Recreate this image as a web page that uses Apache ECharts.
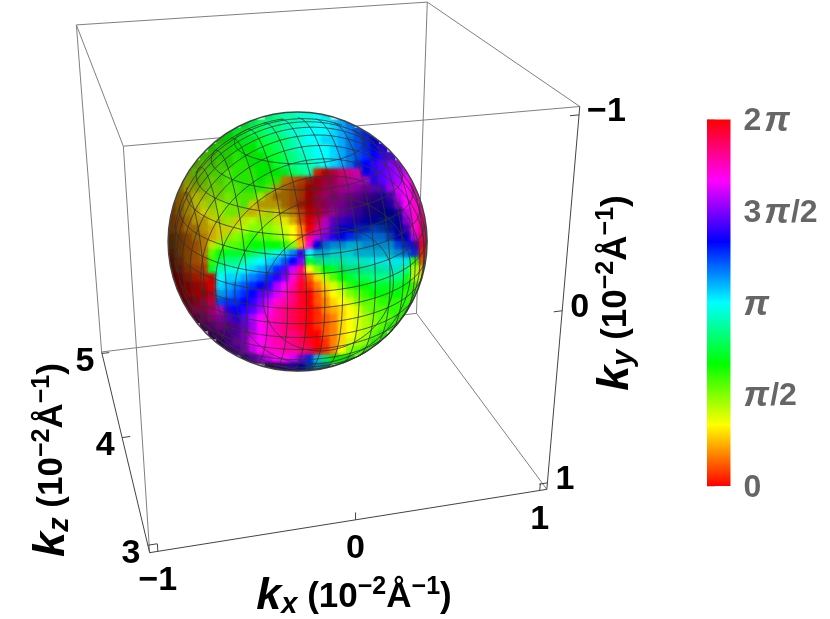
<!DOCTYPE html>
<html>
<head>
<meta charset="utf-8">
<style>html,body{margin:0;background:#fff}#chart{width:830px;height:619px}</style>
<script src="https://cdn.jsdelivr.net/npm/echarts@6/dist/echarts.min.js"></script>
</head>
<body>
<div id="chart"></div>
<script>
// phase on the visible sphere, units of 2pi/36, rows top to bottom (centred)
const phaseRows = [
[15,15,16,16,17,17,18,18],
[13,14,14,15,15,16,16,17,17,18,18,19,20,21],
[12,13,13,14,14,15,15,16,17,17,18,18,18,19,20,21,22,23],
[11,12,12,13,13,13,14,14,15,16,17,18,18,19,19,20,21,22,23,24],
[11,11,11,12,12,12,13,13,14,15,16,17,17,18,18,19,20,21,22,23,24,25],
[10,10,11,11,11,12,12,12,13,13,14,15,16,17,18,18,19,20,21,22,23,24,25,26],
[9,9,10,10,11,11,11,12,12,12,13,14,15,16,16,17,18,19,20,21,23,24,25,26,27,28],
[8,9,9,10,10,10,11,11,11,12,12,12,13,14,15,16,1,0,34,33,32,31,24,25,26,27,28,29],
[6,7,8,9,9,10,10,11,11,11,12,11,11,4,3,2,1,35,34,33,32,31,30,29,25,26,27,28,30,31],
[5,6,7,8,9,9,10,10,11,11,11,10,5,4,3,2,0,35,33,32,31,30,29,28,27,26,28,29,30,31],
[4,5,6,7,8,9,9,10,10,10,8,5,4,4,3,2,0,34,32,31,30,29,28,27,26,25,26,29,30,31],
[3,4,5,6,7,8,8,9,9,10,6,5,5,5,4,3,1,0,34,32,30,29,28,27,26,25,25,25,28,30,31,32],
[3,4,5,5,6,7,8,9,9,7,5,6,7,6,5,4,2,0,35,32,30,28,27,26,25,25,24,24,25,29,31,32],
[3,3,4,5,5,6,7,8,6,7,8,8,8,7,6,5,2,0,34,30,27,26,25,25,24,24,23,23,24,28,31,33],
[3,3,4,4,5,5,6,6,7,8,9,9,9,8,7,6,3,0,33,29,26,24,24,23,23,22,22,23,24,26,31,33],
[3,3,3,4,4,5,6,8,9,10,11,10,10,9,8,6,3,33,29,27,25,24,23,22,21,21,21,22,24,24,29,34],
[3,3,3,3,4,7,9,10,10,11,12,12,12,12,11,9,4,31,24,21,20,20,19,19,20,20,20,20,22,23,25,35],
[2,3,3,3,4,10,12,13,13,13,14,15,16,17,19,21,25,18,19,19,18,18,18,19,19,19,19,19,20,21,23,1],
[1,2,3,3,3,11,14,15,15,16,17,18,19,20,22,24,27,13,15,16,16,16,17,17,17,18,18,18,18,18,11,2],
[1,1,2,2,2,13,16,17,17,18,19,20,21,23,26,29,33,6,9,12,13,14,15,15,16,16,16,17,17,15,8,5],
[0,0,1,1,1,0,18,19,19,20,21,22,23,25,27,31,34,2,5,8,10,12,13,14,14,15,15,15,15,13,8,7],
[0,0,0,0,0,19,20,21,22,23,24,25,28,30,32,35,1,3,5,7,9,11,12,12,13,13,13,13,12,10],
[36,36,36,36,35,20,21,22,23,24,26,27,29,31,33,35,0,2,4,6,7,9,10,11,12,12,12,12,11,11],
[35,35,35,34,34,22,23,23,24,25,27,29,31,32,33,35,0,2,3,5,6,7,9,10,10,11,11,11,11,11],
[34,33,33,32,30,25,24,25,26,28,30,32,33,34,35,0,1,3,4,5,6,7,9,10,10,11,11,11],
[32,31,31,29,27,25,26,28,30,31,32,33,34,35,0,1,2,3,5,6,7,8,9,10,10,11],
[29,29,29,28,27,27,28,30,31,32,33,34,35,0,1,2,3,5,6,7,8,9,10,11],
[28,28,27,27,28,29,30,31,32,33,33,34,36,0,2,3,5,6,7,8,10,11],
[27,27,28,28,30,30,31,32,32,33,34,35,0,1,3,5,7,8,9,11],
[27,27,28,29,30,31,31,32,32,33,34,0,1,3,6,9,10,11],
[26,27,28,29,30,30,29,27,23,19,15,12,12,12],
[26,26,26,25,24,22,19,17]
];
// brightness of the same cells, tenths minus one
const shadeRows = [
[8,9,9,9,9,9,9,8],
[7,8,9,9,9,9,9,9,9,9,9,9,9,8],
[7,8,8,9,9,9,9,9,9,9,9,9,9,9,9,9,8,7],
[6,7,8,8,8,9,9,9,9,9,9,9,9,9,9,9,8,8,8,7],
[6,7,7,8,8,8,9,9,9,9,9,9,9,9,9,9,9,8,8,8,8,8],
[6,6,7,7,8,8,8,8,9,9,9,9,9,9,9,9,9,9,8,8,9,9,9,8],
[5,6,6,7,7,8,8,8,8,8,9,9,9,9,9,9,9,9,9,8,8,9,9,9,9,8],
[5,6,6,7,7,8,8,8,8,8,8,8,8,9,9,9,7,6,6,7,7,7,8,9,9,9,9,9],
[4,5,5,6,7,7,8,8,8,8,8,8,8,6,6,6,5,5,5,5,6,6,6,7,8,9,9,9,9,8],
[4,5,5,6,7,7,8,8,8,8,8,8,6,5,5,5,5,5,5,5,5,5,5,5,6,7,8,9,9,8],
[4,5,6,6,7,7,8,8,8,8,8,6,5,5,5,5,5,5,5,4,4,4,4,4,4,5,6,8,9,9],
[3,4,5,6,7,7,8,8,8,8,7,6,6,6,5,5,5,5,5,4,4,4,4,4,4,4,4,5,7,9,9,8],
[3,4,5,6,7,7,8,8,8,7,7,7,7,7,6,6,6,6,6,5,5,5,5,5,4,4,4,4,5,8,9,8],
[3,4,5,6,6,7,7,8,7,8,9,8,8,8,8,7,7,7,7,6,6,6,6,5,5,5,4,4,5,7,9,8],
[3,4,5,5,6,7,7,7,8,9,9,9,9,9,9,9,9,8,8,7,7,7,7,6,6,6,5,5,5,6,9,8],
[2,3,4,5,6,7,7,8,9,9,9,9,9,9,9,9,9,9,8,8,8,8,8,7,7,7,7,6,6,6,8,8],
[2,3,4,5,6,8,9,9,9,9,9,9,9,9,9,9,9,9,7,7,7,7,7,7,7,7,7,7,7,7,7,8],
[2,3,4,5,6,9,9,9,9,9,9,9,9,9,9,9,9,9,7,7,7,7,7,7,7,7,7,7,7,7,8,8],
[2,3,4,5,6,9,9,9,9,9,9,9,9,9,9,9,9,9,8,8,8,8,8,8,8,8,8,8,8,8,9,8],
[2,3,4,5,6,9,9,9,9,9,9,9,9,9,9,9,9,9,9,9,9,8,8,8,8,8,8,8,8,9,9,8],
[2,3,4,5,6,7,9,9,9,9,9,9,9,9,9,9,9,9,9,9,9,9,9,9,9,9,9,9,9,9,9,8],
[3,4,5,6,7,9,9,9,9,9,9,9,9,9,9,9,9,9,9,9,9,9,9,9,9,9,9,9,9,8],
[3,4,5,5,6,8,9,9,9,9,9,9,9,9,9,9,9,9,9,9,9,9,9,9,9,9,9,9,9,8],
[2,3,4,5,6,8,9,9,9,9,9,9,9,9,9,9,9,9,9,9,9,9,9,9,9,9,9,9,9,8],
[3,4,4,5,6,8,9,9,9,9,9,9,9,9,9,9,9,9,9,9,9,9,9,9,9,9,9,8],
[2,3,4,5,6,7,9,9,9,9,9,9,9,9,9,9,9,9,9,9,9,9,9,9,9,8],
[2,3,4,4,5,7,8,9,9,9,9,9,9,9,9,9,9,9,9,9,9,9,9,8],
[2,3,4,5,6,8,9,9,9,9,9,9,9,9,9,9,9,9,9,9,9,8],
[2,4,5,6,8,9,9,9,9,9,9,9,9,9,9,9,9,9,9,8],
[3,4,6,8,9,9,9,9,9,9,9,9,9,9,9,9,9,8],
[3,5,7,8,9,9,9,8,8,8,8,8,8,7],
[2,3,4,5,5,5,5,4]
];
const kxTicks = [-1, 0, 1];
const kyTicks = [-1, 0, 1];
const kzTicks = [3, 4, 5];
const kxLabels = ['−1', '0', '1'];
const kyLabels = ['−1', '0', '1'];
const kzLabels = ['3', '4', '5'];
const meshLevels = [-13, -11, -9, -7, -5, -3, -1, 1, 3, 5, 7, 9, 11, 13].map(v => v / 15);
const colorbarLabels = ['{d|0}', '{q|π}{d|/2}', '{q|π}', '{d|3}{p|π}{d|/2}', '{d|2}{p|π}'];
const boxX = [-1.04, 1.04];
const boxY = [-1.04, 1.04];
const boxZ = [2.94, 5.02];
const sphereCenter = [-0.012, -0.018, 4];
const sphereRadius = 0.68;

// box corners as they sit on the page, used only to fit the camera
const viewFit = [
  [boxX[0], boxY[1], boxZ[0], 149, 552.7], [boxX[1], boxY[1], boxZ[0], 546.7, 489.3],
  [boxX[1], boxY[0], boxZ[0], 580, 106.7], [boxX[0], boxY[0], boxZ[0], 124, 146],
  [boxX[0], boxY[1], boxZ[1], 102, 352], [boxX[1], boxY[1], boxZ[1], 416.7, 313.3],
  [boxX[1], boxY[0], boxZ[1], 427, 2], [boxX[0], boxY[0], boxZ[1], 76, 25]
];

function solve(A, b) {
  const n = b.length, m = A.map((r, i) => r.concat(b[i]));
  for (let c = 0; c < n; c++) {
    let p = c;
    for (let r = c + 1; r < n; r++) if (Math.abs(m[r][c]) > Math.abs(m[p][c])) p = r;
    [m[c], m[p]] = [m[p], m[c]];
    for (let r = 0; r < n; r++) {
      if (r === c) continue;
      const f = m[r][c] / m[c][c];
      for (let k = c; k <= n; k++) m[r][k] -= f * m[c][k];
    }
  }
  return m.map((r, i) => r[n] / r[i]);
}

function fitCamera() {
  const rows = [], rhs = [];
  viewFit.forEach(([x, y, z, u, v]) => {
    rows.push([x, y, z, 1, 0, 0, 0, 0, -u * x, -u * y, -u * z]); rhs.push(u);
    rows.push([0, 0, 0, 0, x, y, z, 1, -v * x, -v * y, -v * z]); rhs.push(v);
  });
  const N = Array.from({length: 11}, (_, i) => Array.from({length: 11}, (_, j) => rows.reduce((s, r) => s + r[i] * r[j], 0)));
  const t = Array.from({length: 11}, (_, i) => rows.reduce((s, r, k) => s + r[i] * rhs[k], 0));
  return solve(N, t);
}
const cam = fitCamera();
const camPos = solve(
  [[cam[0], cam[1], cam[2]], [cam[4], cam[5], cam[6]], [cam[8], cam[9], cam[10]]],
  [-cam[3], -cam[7], -1]
);
function project(p) {
  const w = cam[8] * p[0] + cam[9] * p[1] + cam[10] * p[2] + 1;
  return [
    (cam[0] * p[0] + cam[1] * p[1] + cam[2] * p[2] + cam[3]) / w,
    (cam[4] * p[0] + cam[5] * p[1] + cam[6] * p[2] + cam[7]) / w
  ];
}

function phaseRgb(phase, shade) {
  const h = ((phase % 36) + 36) % 36 / 6, v = shade;
  const f = h - Math.floor(h), i = Math.floor(h);
  const rgb = [[1, f, 0], [1 - f, 1, 0], [0, 1, f], [0, 1 - f, 1], [f, 0, 1], [1, 0, 1 - f]][i];
  return rgb.map(c => Math.round(c * v * 255)).join(',');
}
const phaseColor = (phase, shade) => 'rgb(' + phaseRgb(phase, shade) + ')';

// data for the custom series
const cells = [];
phaseRows.forEach((row, i) => {
  const start = (32 - row.length) / 2;
  row.forEach((ph, k) => cells.push([start + k, i, ph, (shadeRows[i][k] + 1) / 10]));
});
const c0 = boxX[0], c1 = boxX[1], y0 = boxY[0], y1 = boxY[1], z0 = boxZ[0], z1 = boxZ[1];
const backEdges = [
  [[c0, y0, z1], [c1, y0, z1]], [[c0, y0, z1], [c0, y1, z1]], [[c0, y0, z1], [c0, y0, z0]],
  [[c1, y0, z1], [c1, y0, z0]], [[c1, y0, z1], [c1, y1, z1]], [[c0, y1, z1], [c1, y1, z1]],
  [[c1, y1, z1], [c1, y1, z0]], [[c0, y0, z0], [c1, y0, z0]], [[c0, y0, z0], [c0, y1, z0]]
];
const frontEdges = [
  [[c0, y1, z0], [c1, y1, z0]], [[c0, y1, z1], [c0, y1, z0]], [[c1, y1, z0], [c1, y0, z0]]
];
const tickLen = 0.045;
kxTicks.forEach(t => frontEdges.push([[t, y1, z0], [t, y1 - tickLen, z0]]));
kyTicks.forEach(t => frontEdges.push([[c1, t, z0], [c1 - tickLen, t, z0]]));
kzTicks.forEach(t => frontEdges.push([[c0, y1, t], [c0 + tickLen, y1, t]]));

const meshCircles = [];
[0, 1, 2].forEach(axis => meshLevels.forEach(level => meshCircles.push([axis, level])));

const tickText = [];
kxTicks.forEach((t, i) => tickText.push([[t, y1, z0], kxLabels[i], 0, 29, 'center']));
kzTicks.forEach((t, i) => tickText.push([[c0, y1, t], kzLabels[i], -17, 8, 'center']));
kyTicks.forEach((t, i) => tickText.push([[c1, t, z0], kyLabels[i], 8, -3, 'left']));

function circlePoint(axis, level, t) {
  const r = Math.sqrt(1 - level * level), a = sphereRadius * r * Math.cos(t), b = sphereRadius * r * Math.sin(t);
  const l = sphereRadius * level, s = sphereCenter;
  if (axis === 0) return [s[0] + l, s[1] + a, s[2] + b];
  if (axis === 1) return [s[0] + a, s[1] + l, s[2] + b];
  return [s[0] + a, s[1] + b, s[2] + l];
}
function isFacing(p) {
  const n = [p[0] - sphereCenter[0], p[1] - sphereCenter[1], p[2] - sphereCenter[2]];
  return n[0] * (camPos[0] - p[0]) + n[1] * (camPos[1] - p[1]) + n[2] * (camPos[2] - p[2]) > 0;
}

const edgeRender = (edges, color) => (params, api) => {
  const e = edges[params.dataIndex];
  const a = api.coord(project(e[0])), b = api.coord(project(e[1]));
  return {type: 'line', shape: {x1: a[0], y1: a[1], x2: b[0], y2: b[1]}, style: {stroke: color, lineWidth: 1}};
};

const titleRich = {
  k: {font: 'italic bold 45px "Liberation Sans"', fill: '#000'},
  s: {font: 'italic bold 29px "Liberation Sans"', fill: '#000', verticalAlign: 'bottom'},
  n: {font: 'bold 35px "Liberation Sans"', fill: '#000'},
  u: {font: 'bold 25px "Liberation Sans"', fill: '#000', verticalAlign: 'top'}
};
const titleText = sub => '{k|k}{s|' + sub + '}{n| (10}{u|−2}{n|Å}{u|−1}{n|)}';
const discClip = api => {
  const o = api.coord([16, 16]);
  return {type: 'circle', shape: {cx: o[0], cy: o[1], r: 129.5}};
};

const chart = echarts.init(document.getElementById('chart'), null, {renderer: 'canvas'});
chart.setOption({
  animation: false,
  backgroundColor: '#fff',
  grid: [
    {left: 0, top: 0, width: 830, height: 619},
    {left: 168, top: 112, width: 259.2, height: 259.2},
    {left: 707, top: 119.5, width: 23.5, height: 366.5}
  ],
  xAxis: [
    {gridIndex: 0, type: 'value', min: 0, max: 830, show: false},
    {gridIndex: 1, type: 'value', min: 0, max: 32, show: false},
    {gridIndex: 2, type: 'value', min: 0, max: 1, show: false}
  ],
  yAxis: [
    {gridIndex: 0, type: 'value', min: 0, max: 619, inverse: true, show: false},
    {gridIndex: 1, type: 'value', min: 0, max: 32, inverse: true, show: false},
    {
      gridIndex: 2, type: 'value', min: 0, max: 4, interval: 1, position: 'right',
      splitLine: {show: false},
      axisLine: {show: true, lineStyle: {color: '#ccc'}},
      axisTick: {show: true, length: 8, lineStyle: {color: '#ccc'}},
      axisLabel: {
        margin: 13, padding: [4, 0, 0, 0],
        formatter: v => colorbarLabels[v],
        rich: {
          d: {color: '#666', fontFamily: 'Liberation Sans', fontWeight: 'bold', fontSize: 32},
          p: {color: '#666', fontFamily: 'Liberation Sans', fontWeight: 'bold', fontStyle: 'italic', fontSize: 36, padding: [0, 1, 0, 3]},
          q: {color: '#666', fontFamily: 'Liberation Sans', fontWeight: 'bold', fontStyle: 'italic', fontSize: 36, padding: [0, 1, 0, 0]}
        }
      }
    }
  ],
  series: [
    {
      type: 'custom', name: 'box back', xAxisIndex: 0, yAxisIndex: 0, z: 1, clip: false, silent: true,
      data: backEdges.map((_, i) => [i]),
      renderItem: edgeRender(backEdges, '#808080')
    },
    {
      type: 'custom', name: 'box front', xAxisIndex: 0, yAxisIndex: 0, z: 1, clip: false, silent: true,
      data: frontEdges.map((_, i) => [i]),
      renderItem: edgeRender(frontEdges, '#444')
    },
    {
      type: 'custom', name: 'sphere base', xAxisIndex: 1, yAxisIndex: 1, z: 2, clip: false, silent: true,
      data: cells,
      renderItem: (params, api) => {
        const j = api.value(0), i = api.value(1);
        const a = api.coord([j, i]), b = api.coord([j + 1, i + 1]);
        return {
          type: 'rect',
          shape: {x: a[0] - 0.3, y: a[1] - 0.3, width: b[0] - a[0] + 0.6, height: b[1] - a[1] + 0.6},
          style: {fill: phaseColor(api.value(2), api.value(3))},
          clipPath: discClip(api)
        };
      }
    },
    {
      // soft edge on every cell so neighbouring cells melt into each other
      type: 'custom', name: 'sphere soft', xAxisIndex: 1, yAxisIndex: 1, z: 2, clip: false, silent: true,
      data: cells,
      renderItem: (params, api) => {
        const j = api.value(0), i = api.value(1);
        const c = api.coord([j + 0.5, i + 0.5]), e = api.coord([j + 1.5, i + 0.5]);
        const rgb = phaseRgb(api.value(2), api.value(3));
        return {
          type: 'circle',
          shape: {cx: c[0], cy: c[1], r: e[0] - c[0]},
          style: {fill: new echarts.graphic.RadialGradient(0.5, 0.5, 0.5, [
            {offset: 0, color: 'rgba(' + rgb + ',1)'}, {offset: 1, color: 'rgba(' + rgb + ',0)'}
          ])},
          clipPath: discClip(api)
        };
      }
    },
    {
      type: 'custom', name: 'mesh', xAxisIndex: 0, yAxisIndex: 0, z: 3, clip: false, silent: true,
      data: meshCircles,
      renderItem: (params, api) => {
        const axis = api.value(0), level = api.value(1), runs = [];
        let run = null;
        for (let s = 0; s <= 120; s++) {
          const p = circlePoint(axis, level, s / 120 * 2 * Math.PI);
          if (isFacing(p)) {
            if (!run) { run = []; runs.push(run); }
            run.push(api.coord(project(p)));
          } else run = null;
        }
        return {
          type: 'group',
          children: runs.map(points => ({
            type: 'polyline', shape: {points},
            style: {stroke: 'rgba(50,50,50,0.8)', lineWidth: 1, fill: null}
          }))
        };
      }
    },
    {
      type: 'custom', name: 'tick labels', xAxisIndex: 0, yAxisIndex: 0, z: 4, clip: false, silent: true,
      data: tickText.map((_, i) => [i]),
      renderItem: (params, api) => {
        const t = tickText[params.dataIndex], c = api.coord(project(t[0]));
        return {
          type: 'text', x: c[0] + t[2], y: c[1] + t[3],
          style: {text: t[1], font: 'bold 34px "Liberation Sans"', fill: '#000', align: t[4], verticalAlign: 'middle'}
        };
      }
    },
    {
      type: 'custom', name: 'colorbar', xAxisIndex: 2, yAxisIndex: 2, z: 2, clip: false, silent: true,
      data: [[0]],
      renderItem: (params, api) => {
        const a = api.coord([0, 4]), b = api.coord([1, 0]);
        const stops = [];
        for (let h = 0; h <= 36; h += 3) stops.push({offset: h / 36, color: phaseColor(h === 36 ? 0 : h, 1)});
        return {
          type: 'rect',
          shape: {x: a[0], y: a[1], width: b[0] - a[0], height: b[1] - a[1]},
          style: {fill: new echarts.graphic.LinearGradient(0, 1, 0, 0, stops)}
        };
      }
    }
  ],
  graphic: {
    elements: [
      {type: 'circle', shape: {cx: 297.6, cy: 241.6, r: 129.5}, style: {fill: null, stroke: '#444', lineWidth: 1.5}, z: 3, silent: true},
      {type: 'text', x: 354, y: 597, z: 5, style: {text: titleText('x'), rich: titleRich, align: 'center', verticalAlign: 'middle'}},
      {type: 'text', x: 52, y: 460, rotation: Math.PI / 2, z: 5, style: {text: titleText('z'), rich: titleRich, align: 'center', verticalAlign: 'middle'}},
      {type: 'text', x: 616, y: 293, rotation: Math.PI / 2, z: 5, style: {text: titleText('y'), rich: titleRich, align: 'center', verticalAlign: 'middle'}}
    ]
  }
});
</script>
</body>
</html>
